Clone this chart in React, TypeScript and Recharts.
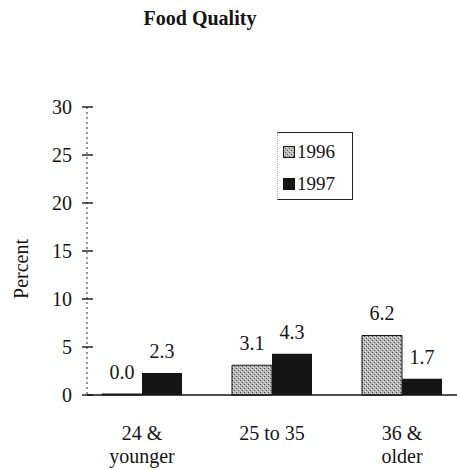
import React from "react";
import { BarChart, Bar, XAxis, YAxis, LabelList } from "recharts";

const categories = ["24 &\nyounger", "25 to 35", "36 &\nolder"];
const values1996 = [0.0, 3.1, 6.2];
const values1997 = [2.3, 4.3, 1.7];
const yTicks = [0, 5, 10, 15, 20, 25, 30];
const seriesNames = ["1996", "1997"];

const data = categories.map((c, i) => ({
  category: c,
  v1996: values1996[i],
  v1997: values1997[i],
}));

const FONT = "'Liberation Serif', 'DejaVu Serif', serif";
const INK = "#151515";
const FS = 20;

const YTick = (props: any) => {
  const { x, y, payload } = props;
  return (
    <g>
      <line x1={x - 5} x2={x + 6} y1={y} y2={y} stroke={INK} strokeWidth={1.4} />
      <text x={x - 15} y={y} dy={7} textAnchor="end" fontFamily={FONT} fontSize={FS} fill={INK}>
        {payload.value}
      </text>
    </g>
  );
};

const XTick = (props: any) => {
  const { x, y, payload } = props;
  const lines = String(payload.value).split("\n");
  return (
    <text x={x} y={y} textAnchor="middle" fontFamily={FONT} fontSize={FS} fill={INK}>
      {lines.map((l, i) => (
        <tspan key={i} x={x} dy={i === 0 ? 37 : 23}>
          {l}
        </tspan>
      ))}
    </text>
  );
};

export default function App() {
  return (
    <div style={{ position: "absolute", left: 0, top: 0, width: 457, height: 470, background: "#fff" }}>
      <svg width={0} height={0} style={{ position: "absolute" }}>
        <defs>
          <pattern id="stipple" width={4} height={4} patternUnits="userSpaceOnUse">
            <rect width={4} height={4} fill="#b8b8b8" />
            <rect x={0} y={0} width={1} height={1} fill="#444" />
            <rect x={2} y={2} width={1} height={1} fill="#555" />
            <rect x={3} y={1} width={1} height={1} fill="#e6e6e6" />
            <rect x={1} y={3} width={1} height={1} fill="#e0e0e0" />
          </pattern>
        </defs>
      </svg>
      <div
        style={{
          position: "absolute",
          left: 0,
          width: 400,
          top: 8,
          lineHeight: "20px",
          textAlign: "center",
          fontFamily: FONT,
          fontWeight: "bold",
          fontSize: FS,
          color: INK,
        }}
      >
        Food Quality
      </div>
      <div
        style={{
          position: "absolute",
          left: 21,
          top: 269,
          transform: "translate(-50%, -50%) rotate(-90deg)",
          fontFamily: FONT,
          fontSize: FS,
          lineHeight: "20px",
          color: INK,
          whiteSpace: "nowrap",
        }}
      >
        Percent
      </div>
      <div
        style={{
          position: "absolute",
          left: 277,
          top: 132,
          width: 76,
          height: 68,
          borderTop: "1.5px solid #222",
          borderRight: "1.5px solid #222",
          borderBottom: "1.5px solid #222",
          borderLeft: "1px dotted #aaa",
          boxSizing: "border-box",
          fontFamily: FONT,
          fontSize: 19,
          color: INK,
          paddingTop: 3,
          paddingLeft: 5,
        }}
      >
        {seriesNames.map((n, i) => (
          <div key={n} style={{ display: "flex", alignItems: "center", height: 32 }}>
            <svg width={12} height={12} style={{ marginRight: 2 }}>
              <rect
                x={0.5}
                y={0.5}
                width={11}
                height={11}
                fill={i === 0 ? "url(#stipple)" : INK}
                stroke={INK}
                strokeWidth={1}
              />
            </svg>
            <span>{n}</span>
          </div>
        ))}
      </div>
      <div style={{ position: "absolute", left: 0, top: 0 }}>
        <BarChart
          width={457}
          height={470}
          data={data}
          margin={{ top: 107, right: 0, bottom: 0, left: 0 }}
          barGap={0}
          barSize={40}
        >
          <XAxis
            dataKey="category"
            axisLine={{ stroke: INK, strokeWidth: 1.3 }}
            tickLine={false}
            tick={<XTick />}
            interval={0}
            height={75}
            padding={{ left: -10, right: -10 }}
          />
          <YAxis
            domain={[0, 30]}
            ticks={yTicks}
            width={87}
            tickSize={0}
            tickMargin={0}
            tickLine={false}
            axisLine={{ stroke: "#333", strokeDasharray: "2 3" }}
            tick={<YTick />}
            interval={0}
          />
          <Bar
            dataKey="v1996"
            name="1996"
            fill="url(#stipple)"
            stroke={INK}
            strokeWidth={1}
            minPointSize={1}
            isAnimationActive={false}
          >
            <LabelList
              dataKey="v1996"
              position="top"
              offset={15}
              formatter={(v: any) => Number(v).toFixed(1)}
              style={{ fontFamily: FONT, fontSize: FS, fill: INK }}
            />
          </Bar>
          <Bar dataKey="v1997" name="1997" fill={INK} isAnimationActive={false}>
            <LabelList
              dataKey="v1997"
              position="top"
              offset={15}
              formatter={(v: any) => Number(v).toFixed(1)}
              style={{ fontFamily: FONT, fontSize: FS, fill: INK }}
            />
          </Bar>
        </BarChart>
      </div>
    </div>
  );
}
